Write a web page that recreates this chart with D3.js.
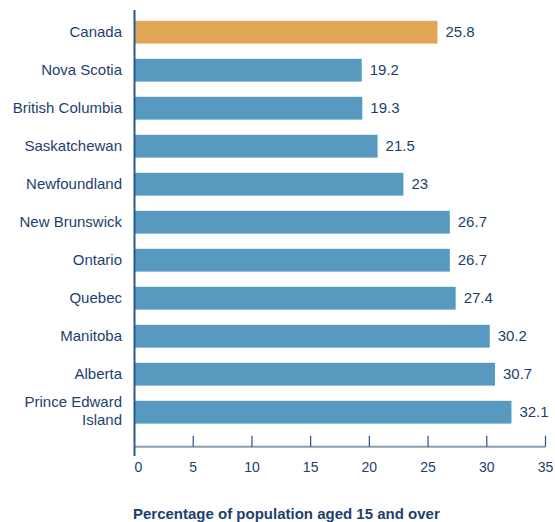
<!DOCTYPE html>
<html>
<head>
<meta charset="utf-8">
<script src="https://cdn.jsdelivr.net/npm/d3@7"></script>
<style>
  body { margin: 0; background: #fff; }
  text { font-family: "Liberation Sans", Arial, sans-serif; }
</style>
</head>
<body>
<div id="chart"></div>
<script>
// Chart data (bar lengths; the printed labels are kept apart)
var provinces = ["Canada", "Nova Scotia", "British Columbia", "Saskatchewan", "Newfoundland",
                 "New Brunswick", "Ontario", "Quebec", "Manitoba", "Alberta", "Prince Edward Island"];
var values = [25.8, 19.35, 19.4, 20.7, 22.9, 26.85, 26.85, 27.35, 30.25, 30.7, 32.1];
var valueLabels = ["25.8", "19.2", "19.3", "21.5", "23", "26.7", "26.7", "27.4", "30.2", "30.7", "32.1"];
var xTicks = [0, 5, 10, 15, 20, 25, 30, 35];
var axisTitle = "Percentage of population aged 15 and over";

var w = 555, h = 522;
var navy = "#1d3f6e";

var svg = d3.select("#chart").append("svg")
    .attr("width", w)
    .attr("height", h);

var left = 134.5, right = 545.5;
var x = d3.scaleLinear().domain([0, 35]).range([left, right]);
var y = d3.scaleBand().domain(provinces).range([13.2, 431.2]).paddingInner(0.4).paddingOuter(0.2);

var axisY = 446.7;

// bars
svg.selectAll("rect.bar")
    .data(provinces)
    .enter().append("rect")
    .attr("class", "bar")
    .attr("x", x(0))
    .attr("y", function(d) { return y(d); })
    .attr("width", function(d, i) { return x(values[i]) - x(0); })
    .attr("height", y.bandwidth())
    .style("fill", function(d) { return d == "Canada" ? "#e2a756" : "#5899bf"; });

// value labels
svg.selectAll("text.val")
    .data(provinces)
    .enter().append("text")
    .attr("class", "val")
    .attr("x", function(d, i) { return x(values[i]) + 8; })
    .attr("y", function(d) { return y(d) + y.bandwidth() / 2; })
    .attr("dy", "0.35em")
    .style("font-size", "15px")
    .style("fill", navy)
    .text(function(d, i) { return valueLabels[i]; });

// category labels (PEI wraps on two lines)
svg.selectAll("text.cat")
    .data(provinces)
    .enter().append("text")
    .attr("class", "cat")
    .attr("text-anchor", "end")
    .style("font-size", "15px")
    .style("fill", navy)
    .each(function(d) {
        var t = d3.select(this);
        var cy = y(d) + y.bandwidth() / 2;
        if (d == "Prince Edward Island") {
            t.append("tspan").attr("x", 122).attr("y", cy - 10.5).attr("dy", "0.35em").text("Prince Edward");
            t.append("tspan").attr("x", 122).attr("y", cy + 8).attr("dy", "0.35em").text("Island");
        } else {
            t.append("tspan").attr("x", 122).attr("y", cy).attr("dy", "0.35em").text(d);
        }
    });

// x axis baseline
svg.append("line")
    .attr("x1", x(0)).attr("x2", x(35))
    .attr("y1", axisY).attr("y2", axisY)
    .style("stroke", "#8a9db5")
    .style("stroke-width", 2);

// tick marks and labels
svg.selectAll("line.tick")
    .data(xTicks.slice(1))
    .enter().append("line")
    .attr("class", "tick")
    .attr("x1", function(d) { return x(d); })
    .attr("x2", function(d) { return x(d); })
    .attr("y1", axisY - 11).attr("y2", axisY)
    .style("stroke", "#2b4f80")
    .style("stroke-width", 1.2);

svg.selectAll("text.tick")
    .data(xTicks)
    .enter().append("text")
    .attr("class", "tick")
    .attr("x", function(d) { return x(d) + (d == 0 ? 4 : 0); })
    .attr("y", 467)
    .attr("dy", "0.35em")
    .attr("text-anchor", "middle")
    .style("font-size", "14px")
    .style("fill", navy)
    .text(function(d) { return d; });

// y axis line
svg.append("line")
    .attr("x1", x(0)).attr("x2", x(0))
    .attr("y1", 10).attr("y2", 456)
    .style("stroke", "#2b5a8a")
    .style("stroke-width", 2);

// axis title
svg.append("text")
    .attr("x", 133)
    .attr("y", 518.5)
    .style("font-size", "15px")
    .style("font-weight", "bold")
    .style("fill", navy)
    .text(axisTitle);
</script>
</body>
</html>
